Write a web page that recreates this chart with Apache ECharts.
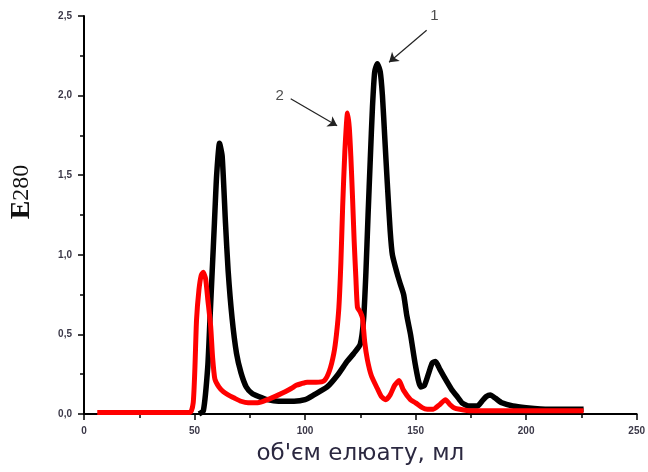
<!DOCTYPE html>
<html>
<head>
<meta charset="utf-8">
<script src="https://cdn.jsdelivr.net/npm/echarts@6/dist/echarts.min.js"></script>
<style>html,body{margin:0;padding:0;background:#fff;}#c{width:648px;height:472px;}</style>
</head>
<body>
<div id="c"></div>
<script>
// Series 1 (black)
const blackX = [52, 54, 56, 57, 58, 59, 60, 61.3, 62.5, 64, 65.2, 67, 69, 71, 73.4, 76, 79, 83, 88, 95, 100, 104, 110, 115, 119, 122, 125, 126.5, 127.5, 128.5, 129.5, 130.5, 131.5, 132.7, 134, 135, 136, 137.2, 138.5, 139.5, 141.7, 143, 144.6, 146, 147.7, 150, 152.3, 154, 156, 157.5, 159, 161, 164.3, 166.5, 168.8, 171, 174, 176, 178, 180, 182, 183.8, 186, 189, 194, 200, 210, 226];
const blackY = [0.0, 0.02, 0.3, 0.6, 0.9, 1.2, 1.5, 1.70, 1.62, 1.2, 0.90, 0.6, 0.38, 0.26, 0.17, 0.13, 0.11, 0.09, 0.08, 0.08, 0.09, 0.12, 0.17, 0.25, 0.33, 0.38, 0.44, 0.6, 0.88, 1.25, 1.6, 1.93, 2.15, 2.20, 2.15, 2.0, 1.75, 1.45, 1.15, 1.0, 0.88, 0.82, 0.75, 0.62, 0.5, 0.3, 0.17, 0.18, 0.26, 0.32, 0.33, 0.28, 0.2, 0.15, 0.11, 0.07, 0.05, 0.05, 0.05, 0.08, 0.11, 0.12, 0.1, 0.07, 0.05, 0.04, 0.03, 0.03];
// Series 2 (red)
const redX = [6, 20, 40, 48, 49.4, 50.2, 50.9, 52, 53, 53.9, 55, 56, 57.3, 58.2, 59.2, 61, 63, 65.2, 68, 71, 74.2, 78, 81, 84.7, 88, 91, 93.7, 96, 98.2, 101, 105, 108.7, 111, 113, 114.2, 115.3, 116.2, 117, 118, 119.2, 120, 120.7, 121.5, 122.2, 123, 123.7, 125, 126, 127, 128.2, 130, 132.7, 134.5, 136.5, 138.5, 140.5, 142.5, 144.5, 147.7, 150, 153, 155.3, 158, 161, 163.5, 165.5, 167.3, 170, 175, 190, 226];
const redY = [0.01, 0.01, 0.01, 0.01, 0.07, 0.3, 0.59, 0.78, 0.87, 0.89, 0.85, 0.72, 0.55, 0.35, 0.22, 0.17, 0.14, 0.12, 0.1, 0.08, 0.07, 0.07, 0.08, 0.1, 0.12, 0.14, 0.16, 0.18, 0.19, 0.2, 0.2, 0.21, 0.27, 0.38, 0.5, 0.67, 0.95, 1.3, 1.65, 1.89, 1.8, 1.62, 1.35, 1.09, 0.85, 0.67, 0.64, 0.6, 0.45, 0.34, 0.24, 0.16, 0.11, 0.09, 0.12, 0.18, 0.21, 0.15, 0.09, 0.07, 0.04, 0.03, 0.03, 0.06, 0.09, 0.06, 0.04, 0.03, 0.02, 0.02, 0.02];
// Annotations
const labels = ['1', '2'];
const labelPos = [[158.5, 2.50], [88.5, 2.00]];
const arrowFrom = [[155, 2.41], [93.5, 1.98]];
const arrowTo = [[138, 2.21], [114.5, 1.81]];

const xTicks = {min: 0, max: 250, interval: 50};
const yTicks = {min: 0, max: 2.5, interval: 0.5};

const zip = (xs, ys) => xs.map((x, i) => [x, ys[i]]);
const labelColor = '#3b3848';

const chart = echarts.init(document.getElementById('c'));
chart.setOption({
  animation: false,
  grid: {left: 82, right: 11, top: 16, bottom: 58},
  xAxis: {
    type: 'value', min: xTicks.min, max: xTicks.max, interval: xTicks.interval,
    splitLine: {show: false},
    axisLine: {onZero: false, lineStyle: {color: '#000', width: 2}},
    axisTick: {show: true, inside: false, length: 6, lineStyle: {color: '#000', width: 1.5}},
    minorTick: {show: true, splitNumber: 2, length: 4, lineStyle: {color: '#000', width: 1.5}},
    axisLabel: {color: labelColor, fontSize: 10, fontWeight: 'bold', fontFamily: 'Liberation Sans, Arial', margin: 12},
    name: "об'єм елюату, мл",
    nameLocation: 'middle', nameGap: 29,
    nameTextStyle: {color: '#2b2840', fontSize: 23, fontFamily: 'DejaVu Sans, Liberation Sans, Arial'}
  },
  yAxis: {
    type: 'value', min: yTicks.min, max: yTicks.max, interval: yTicks.interval,
    splitLine: {show: false},
    axisLine: {show: true, lineStyle: {color: '#000', width: 2}},
    axisTick: {show: true, inside: false, length: 6, lineStyle: {color: '#000', width: 1.5}},
    minorTick: {show: true, splitNumber: 2, length: 4, lineStyle: {color: '#000', width: 1.5}},
    axisLabel: {color: labelColor, fontSize: 10, fontWeight: 'bold', fontFamily: 'Liberation Sans, Arial', margin: 12,
      formatter: v => v.toFixed(1).replace('.', ',')},
    name: '{e|E}{n|280}',
    nameLocation: 'middle', nameGap: 48, nameRotate: 90,
    nameTextStyle: {
      padding: [0, 0, 0, 46],
      rich: {
        e: {fontFamily: 'Liberation Serif, Times New Roman', fontSize: 28, fontWeight: 'bold', color: '#111'},
        n: {fontFamily: 'Liberation Serif, Times New Roman', fontSize: 24, color: '#111'}
      }
    }
  },
  series: [
    {
      type: 'line', data: zip(blackX, blackY), showSymbol: false,
      lineStyle: {color: '#000', width: 5.5, join: 'round'}, smooth: 0.2, z: 2
    },
    {
      type: 'line', data: zip(redX, redY), showSymbol: false,
      lineStyle: {color: '#ff0000', width: 5, join: 'round'}, smooth: 0.2, z: 3
    },
    {
      type: 'scatter', symbolSize: 0, z: 5,
      data: labels.map((t, i) => ({value: labelPos[i], name: t})),
      label: {show: true, position: 'inside', formatter: p => p.name, color: '#222', fontSize: 15, fontFamily: 'Liberation Sans, Arial'},
      markLine: {
        silent: true, symbol: ['none', 'arrow'], symbolSize: 9,
        lineStyle: {color: '#222', width: 1.2, type: 'solid'},
        label: {show: false},
        data: arrowFrom.map((f, i) => [{coord: f}, {coord: arrowTo[i]}])
      }
    }
  ]
});
</script>
</body>
</html>
